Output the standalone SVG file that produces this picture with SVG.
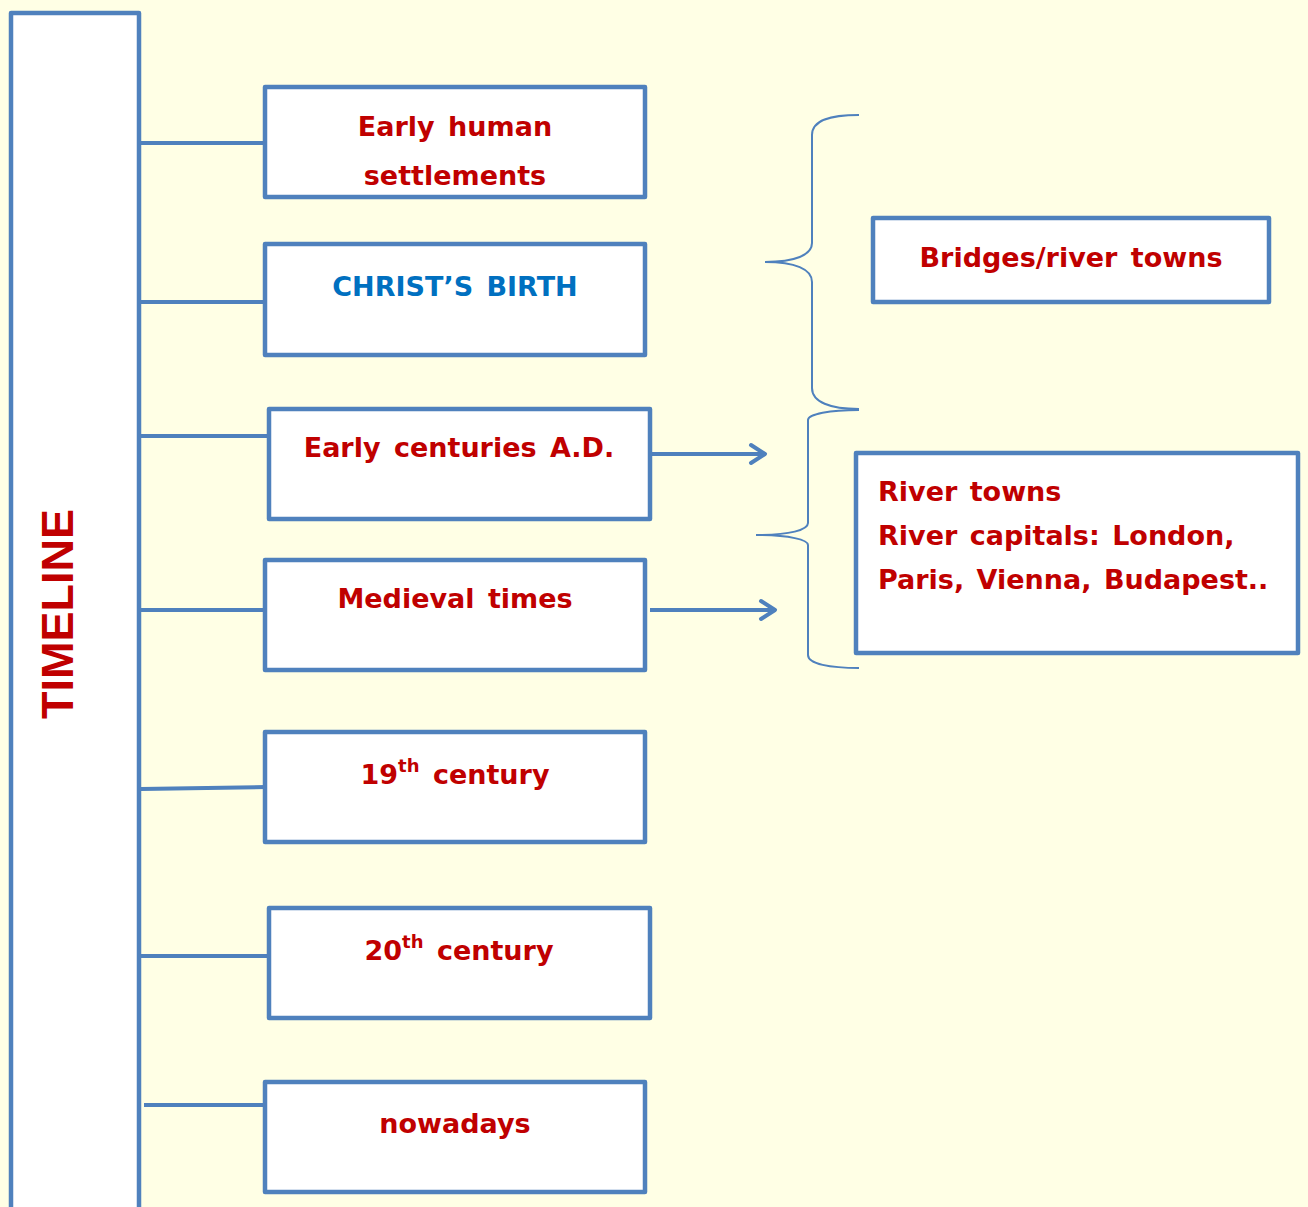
<svg xmlns="http://www.w3.org/2000/svg" width="1308" height="1207" viewBox="0 0 1308 1207">
<defs>
<style>
.box{fill:#fff;stroke:#4F81BD;stroke-width:4.5;stroke-linejoin:round}
.ln{stroke:#4F81BD;stroke-width:4;fill:none}
.br{stroke:#4F81BD;stroke-width:2;fill:none}
.t{font-family:"DejaVu Sans",sans-serif;font-weight:bold;font-size:27px;fill:#C00000;text-anchor:middle;word-spacing:4px}
.tl{font-family:"DejaVu Sans",sans-serif;font-weight:bold;font-size:27px;fill:#C00000;word-spacing:3px}
</style>
<marker id="ah" markerWidth="24" markerHeight="24" refX="18" refY="12" orient="auto" markerUnits="userSpaceOnUse" viewBox="0 0 24 24"><path d="M4,3 L18,12 L4,21" fill="none" stroke="#4F81BD" stroke-width="4" stroke-linecap="round" stroke-linejoin="round"/></marker>
</defs>
<rect width="1308" height="1207" fill="#FFFFE5"/>
<g id="timeline">
<path d="M11,1210 V13 H139 V1210" class="box"/>
<text transform="translate(73,614) rotate(-90)" font-family="Liberation Sans,Arial,sans-serif" font-weight="bold" font-size="45" fill="#C00000" text-anchor="middle">TIMELINE</text>
</g>
<g id="connectors">
<line x1="141" y1="143" x2="270" y2="143" class="ln"/>
<line x1="141" y1="302" x2="266" y2="302" class="ln"/>
<line x1="141" y1="436" x2="270" y2="436" class="ln"/>
<line x1="141" y1="610" x2="266" y2="610" class="ln"/>
<line x1="141" y1="789" x2="266" y2="787" class="ln"/>
<line x1="141" y1="956" x2="270" y2="956" class="ln"/>
<line x1="144" y1="1105" x2="270" y2="1105" class="ln"/>
<line x1="652" y1="454" x2="765" y2="454" class="ln" marker-end="url(#ah)"/>
<line x1="650" y1="610" x2="775" y2="610" class="ln" marker-end="url(#ah)"/>
<path class="br" d="M859,115 C830,115 812,120 812,135 V243 C812,255 795,262 765,262 C795,262 812,269 812,282 V388 C812,402 830,409 859,409"/>
<path class="br" d="M859,410 C830,410 808,414 808,420 V523 C808,530 790,535 756,535 C790,535 808,540 808,545 V655 C808,664 830,668 859,668"/>
</g>
<g id="n1"><rect x="265" y="87" width="380" height="110" class="box"/><text class="t" x="455" y="136">Early human</text><text class="t" x="455" y="185">settlements</text></g>
<g id="n2"><rect x="265" y="244" width="380" height="111" class="box"/><text class="t" x="455" y="296" style="fill:#0070C0">CHRIST’S BIRTH</text></g>
<g id="n3"><rect x="269" y="409" width="381" height="110" class="box"/><text class="t" x="459" y="457">Early centuries A.D.</text></g>
<g id="n4"><rect x="265" y="560" width="380" height="110" class="box"/><text class="t" x="455" y="608">Medieval times</text></g>
<g id="n5"><rect x="265" y="732" width="380" height="110" class="box"/><text class="t" x="455" y="784">19<tspan font-size="18" dy="-12">th</tspan><tspan dy="12"> century</tspan></text></g>
<g id="n6"><rect x="269" y="908" width="381" height="110" class="box"/><text class="t" x="459" y="960">20<tspan font-size="18" dy="-12">th</tspan><tspan dy="12"> century</tspan></text></g>
<g id="n7"><rect x="265" y="1082" width="380" height="110" class="box"/><text class="t" x="455" y="1133">nowadays</text></g>
<g id="n8"><rect x="873" y="218" width="396" height="84" class="box"/><text class="t" x="1071" y="267">Bridges/river towns</text></g>
<g id="n9"><rect x="856" y="453" width="442" height="200" class="box"/><text class="tl" x="878" y="501">River towns</text><text class="tl" x="878" y="545">River capitals: London,</text><text class="tl" x="878" y="589">Paris, Vienna, Budapest..</text></g>
</svg>
